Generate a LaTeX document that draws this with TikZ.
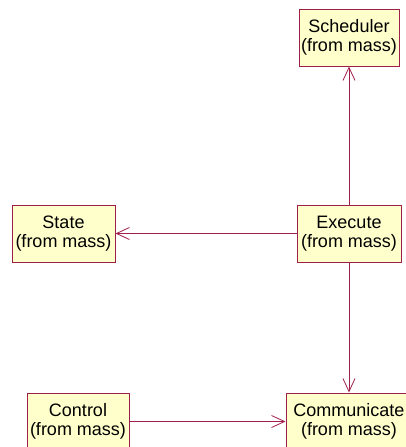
\documentclass[tikz,border=0pt]{standalone}
\usepackage{fontspec}
\setmainfont{Liberation Sans}
\usetikzlibrary{arrows.meta}
\definecolor{roseline}{HTML}{A0204C}
\definecolor{rosefill}{HTML}{FFFFCC}
\tikzset{
  classbox/.style={draw=roseline, line width=1pt, fill=rosefill, rectangle,
    inner sep=0pt, minimum height=57pt, align=center,
    font=\fontsize{18}{19.5}\selectfont},
  link/.style={draw=roseline, line width=0.8pt,
    -{Straight Barb[length=13pt,width=12pt,line width=0.8pt]}},
}
\begin{document}
\begin{tikzpicture}[x=1pt,y=-1pt]
  \clip (0,0) rectangle (406,447);
  \fill[white] (0,0) rectangle (406,447);

  % classes
  \node[classbox, minimum width=100pt] (sched) at (349,37.5) {Scheduler\\(from mass)};
  \node[classbox, minimum width=104pt] (exec)  at (349,233.5) {Execute\\(from mass)};
  \node[classbox, minimum width=103pt] (state) at (63.5,233.5) {State\\(from mass)};
  \node[classbox, minimum width=102pt] (ctrl)  at (78,421.5) {Control\\(from mass)};
  \node[classbox, minimum width=126pt] (comm)  at (349,421.5) {Communicate\\(from mass)};

  % associations
  \draw[link] (exec.north) -- (sched.south);
  \draw[link] (exec.west)  -- (state.east);
  \draw[link] (exec.south) -- (comm.north);
  \draw[link] (ctrl.east)  -- (comm.west);
\end{tikzpicture}
\end{document}
